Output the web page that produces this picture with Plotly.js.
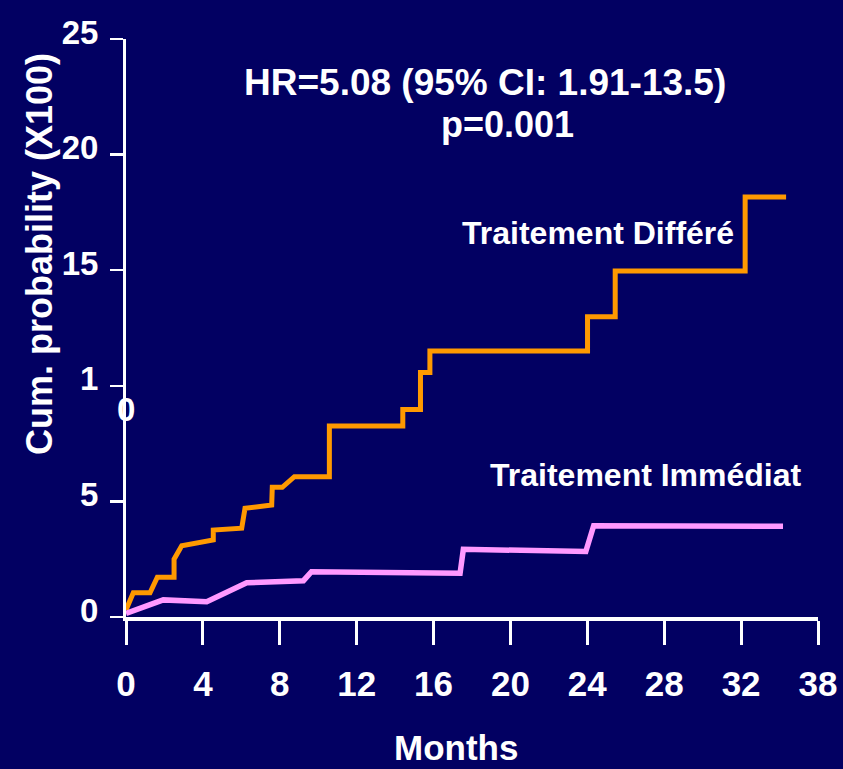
<!DOCTYPE html>
<html>
<head>
<meta charset="utf-8">
<script src="https://cdn.plot.ly/plotly-3.0.1.min.js"></script>
<style>
  html, body { margin: 0; padding: 0; background: #020062; }
  #chart { width: 843px; height: 769px; }
</style>
</head>
<body>
<div id="chart"></div>
<script>
// Traitement Différé (orange) – cumulative probability (x100) vs months
const orangeMonths = [0, 0.38, 1.25, 1.63, 2.50, 2.50, 2.90, 4.46, 4.54, 4.54, 6.02, 6.19, 7.58, 7.61, 8.13, 8.76, 10.58, 10.58, 14.40, 14.40, 15.32, 15.32, 15.81, 15.81, 24.01, 24.01, 25.45, 25.45, 32.21, 32.21, 34.34];
const orangeProb   = [0.30, 1.05, 1.05, 1.72, 1.72, 2.50, 3.08, 3.33, 3.33, 3.76, 3.84, 4.70, 4.84, 5.61, 5.61, 6.07, 6.07, 8.26, 8.26, 8.98, 8.98, 10.57, 10.57, 11.50, 11.50, 12.99, 12.99, 14.97, 14.97, 18.17, 18.17];

// Traitement Immédiat (pink)
const pinkMonths = [0, 1.94, 4.20, 6.28, 9.23, 9.65, 17.38, 17.55, 23.92, 24.33, 34.18];
const pinkProb   = [0.16, 0.74, 0.66, 1.48, 1.57, 1.96, 1.89, 2.93, 2.83, 3.95, 3.92];

// Axis ticks
const xTickVals = [0, 4, 8, 12, 16, 20, 24, 28, 32, 36];
const xTickText = ['0', '4', '8', '12', '16', '20', '24', '28', '32', '38'];
const yTickVals = [0, 5, 10, 15, 20, 25];
const yTickText = ['0', '5', '1', '15', '20', '25'];

const FONT = 'Liberation Sans, Arial, Helvetica, sans-serif';
const WHITE = '#FFFFFF';
const BG = '#020062';

const traces = [
  {
    x: orangeMonths, y: orangeProb, type: 'scatter', mode: 'lines',
    line: { color: '#FF9900', width: 5 }, name: 'Traitement Différé',
    hoverinfo: 'skip'
  },
  {
    x: pinkMonths, y: pinkProb, type: 'scatter', mode: 'lines',
    line: { color: '#FF99FF', width: 5.5 }, name: 'Traitement Immédiat',
    hoverinfo: 'skip'
  }
];

function ann(text, x, y, size, extra) {
  return Object.assign({
    text: text, x: x, y: y, xref: 'paper', yref: 'paper',
    showarrow: false, xanchor: 'center', yanchor: 'middle',
    font: { family: FONT, size: size, color: WHITE, weight: 'bold' }
  }, extra || {});
}
// helper: pixel position -> paper fraction (plot area 126..818 x 39..617)
function px(x) { return (x - 126) / 692; }
function py(y) { return (617 - y) / 578; }

const layout = {
  width: 843, height: 769,
  margin: { l: 126, r: 25, t: 39, b: 152 },
  paper_bgcolor: BG, plot_bgcolor: BG,
  showlegend: false,
  xaxis: {
    range: [0, 36], tickmode: 'array', tickvals: xTickVals, ticktext: xTickText,
    showgrid: false, zeroline: false,
    showline: true, linecolor: WHITE, linewidth: 4,
    ticks: 'outside', ticklen: 24, tickwidth: 3, tickcolor: WHITE,
    tickfont: { family: FONT, size: 35, color: WHITE, weight: 'bold' },
    ticklabelstandoff: 9,
    fixedrange: true
  },
  yaxis: {
    range: [0, 25], tickmode: 'array', tickvals: yTickVals, ticktext: yTickText,
    showgrid: false, zeroline: false,
    showline: true, linecolor: WHITE, linewidth: 3,
    ticks: 'outside', ticklen: 13, tickwidth: 2.5, tickcolor: WHITE,
    tickfont: { family: FONT, size: 33, color: WHITE, weight: 'bold' },
    ticklabelstandoff: 5,
    ticklabelshift: -7,
    fixedrange: true
  },
  annotations: [
    ann('HR=5.08 (95% CI: 1.91-13.5)', px(485), py(82), 37),
    ann('p=0.001', px(507), py(125), 36),
    ann('Traitement Différé', px(597.5), py(233), 32),
    ann('Traitement Immédiat', px(646), py(475), 32),
    ann('0', px(126), py(409), 33),
    ann('Months', px(456), py(747), 35),
    ann('Cum. probability (X100)', px(39), py(254), 36, { textangle: -90 })
  ]
};

Plotly.newPlot('chart', traces, layout, { staticPlot: true, displayModeBar: false });
</script>
</body>
</html>
